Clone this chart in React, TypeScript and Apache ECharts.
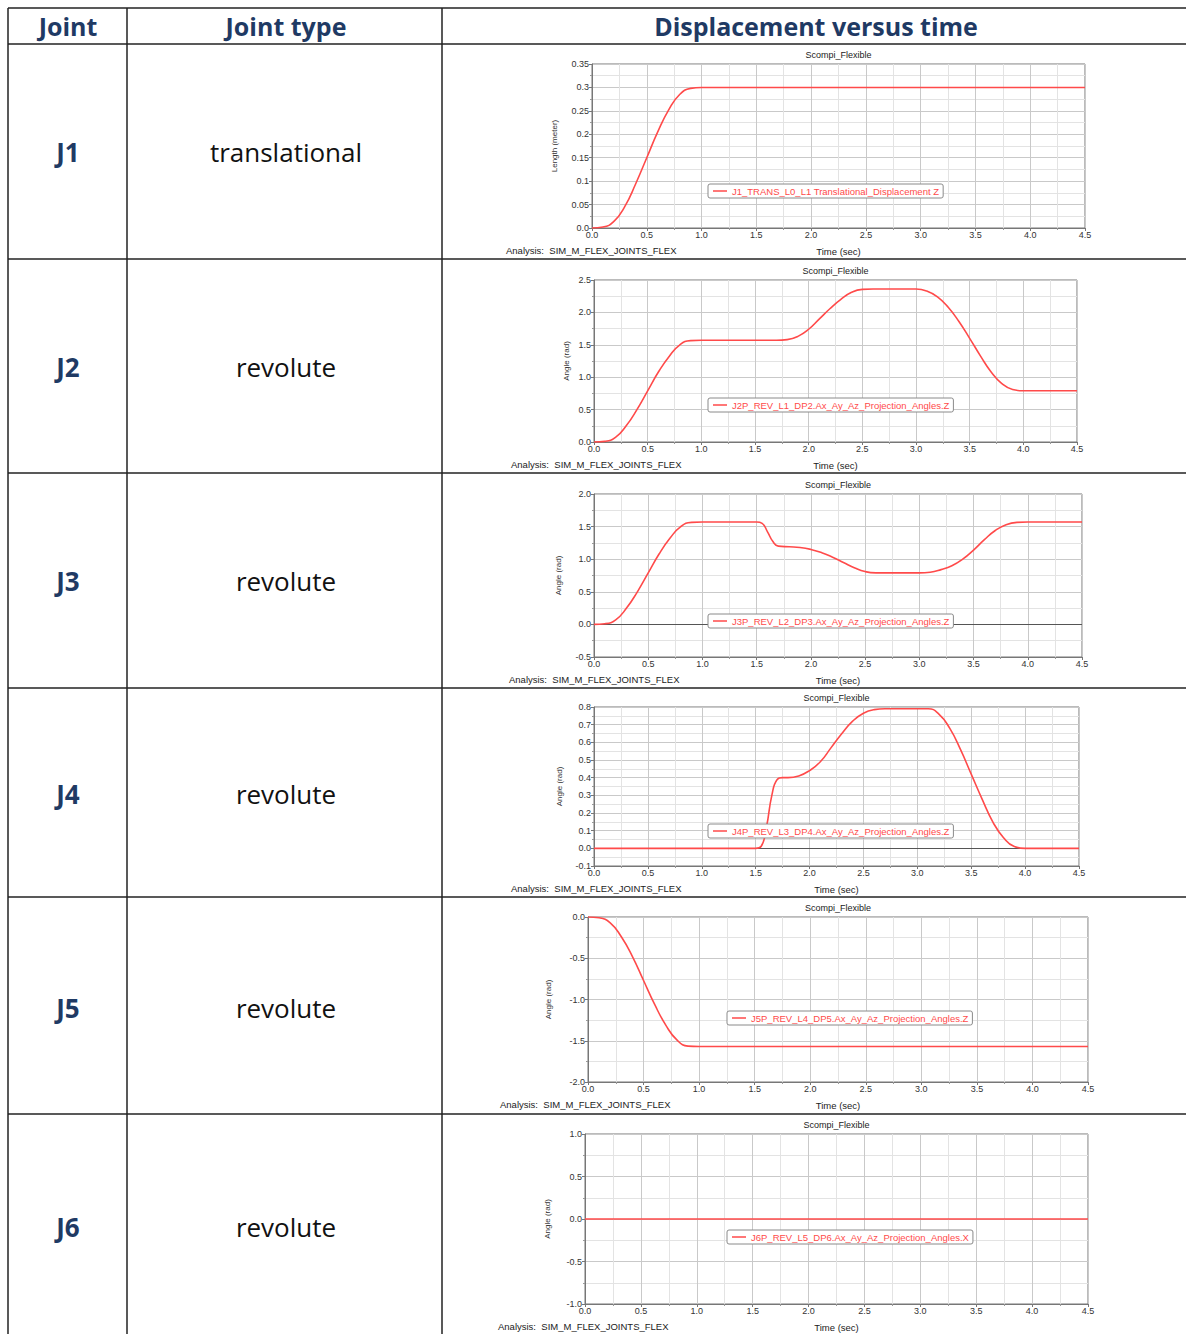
import React, { useEffect, useRef } from "react";
import * as echarts from "echarts";

// ---------- data ----------
const jointLabels = ["J1", "J2", "J3", "J4", "J5", "J6"];
const jointTypes = ["translational", "revolute", "revolute", "revolute", "revolute", "revolute"];
const headerLabels = ["Joint", "Joint type", "Displacement versus time"];

const seriesNames = [
  "J1_TRANS_L0_L1 Translational_Displacement Z",
  "J2P_REV_L1_DP2.Ax_Ay_Az_Projection_Angles.Z",
  "J3P_REV_L2_DP3.Ax_Ay_Az_Projection_Angles.Z",
  "J4P_REV_L3_DP4.Ax_Ay_Az_Projection_Angles.Z",
  "J5P_REV_L4_DP5.Ax_Ay_Az_Projection_Angles.Z",
  "J6P_REV_L5_DP6.Ax_Ay_Az_Projection_Angles.X",
];
const yAxisNames = ["Length (meter)", "Angle (rad)", "Angle (rad)", "Angle (rad)", "Angle (rad)", "Angle (rad)"];

const j1T = [0, 0.1, 0.2, 0.3, 0.4, 0.5, 0.6, 0.7, 0.8, 0.9, 1.0, 4.5];
const j1V = [0, 0.002, 0.014, 0.046, 0.095, 0.15, 0.205, 0.252, 0.285, 0.298, 0.3, 0.3];

const j2T = [0, 0.1, 0.2, 0.3, 0.4, 0.5, 0.6, 0.7, 0.8, 0.9, 1.0, 1.7, 1.8, 1.9, 2.0, 2.1, 2.2, 2.3, 2.4, 2.5, 2.6, 3.0, 3.1, 3.2, 3.3, 3.4, 3.5, 3.6, 3.7, 3.8, 3.9, 4.0, 4.5];
const j2V = [0, 0.01, 0.07, 0.25, 0.5, 0.79, 1.08, 1.32, 1.5, 1.565, 1.57, 1.57, 1.58, 1.63, 1.74, 1.9, 2.06, 2.2, 2.31, 2.355, 2.36, 2.36, 2.33, 2.24, 2.08, 1.86, 1.6, 1.33, 1.08, 0.9, 0.81, 0.79, 0.79];

const j3T = [0, 0.1, 0.2, 0.3, 0.4, 0.5, 0.6, 0.7, 0.8, 0.9, 1.0, 1.5, 1.55, 1.6, 1.65, 1.7, 1.8, 1.9, 2.0, 2.1, 2.2, 2.3, 2.4, 2.5, 2.6, 3.0, 3.1, 3.2, 3.3, 3.4, 3.5, 3.6, 3.7, 3.8, 3.9, 4.0, 4.5];
const j3V = [0, 0.01, 0.07, 0.25, 0.5, 0.79, 1.08, 1.32, 1.5, 1.565, 1.57, 1.57, 1.55, 1.42, 1.27, 1.2, 1.19, 1.18, 1.15, 1.1, 1.03, 0.95, 0.87, 0.81, 0.79, 0.79, 0.8, 0.84, 0.9, 1.0, 1.14, 1.3, 1.44, 1.53, 1.565, 1.57, 1.57];

const j4T = [0, 1.5, 1.55, 1.6, 1.65, 1.7, 1.75, 1.8, 1.9, 2.0, 2.1, 2.2, 2.3, 2.4, 2.5, 2.6, 2.7, 3.1, 3.2, 3.3, 3.4, 3.5, 3.6, 3.7, 3.8, 3.9, 4.0, 4.5];
const j4V = [0, 0, 0.01, 0.12, 0.3, 0.39, 0.4, 0.4, 0.41, 0.44, 0.49, 0.57, 0.65, 0.72, 0.765, 0.785, 0.79, 0.79, 0.76, 0.68, 0.56, 0.42, 0.28, 0.15, 0.06, 0.01, 0, 0];

const j5T = [0, 0.1, 0.2, 0.3, 0.4, 0.5, 0.6, 0.7, 0.8, 0.9, 1.0, 4.5];
const j5V = [0, -0.01, -0.07, -0.24, -0.48, -0.77, -1.06, -1.31, -1.49, -1.565, -1.57, -1.57];

const j6T = [0, 4.5];
const j6V = [0, 0];

const allT = [j1T, j2T, j3T, j4T, j5T, j6T];
const allV = [j1V, j2V, j3V, j4V, j5V, j6V];

const yMins = [0, 0, -0.5, -0.1, -2.0, -1.0];
const yMaxs = [0.35, 2.5, 2.0, 0.8, 0.0, 1.0];
const yIntervals = [0.05, 0.5, 0.5, 0.1, 0.5, 0.5];
const xTickValues = [0, 0.5, 1.0, 1.5, 2.0, 2.5, 3.0, 3.5, 4.0, 4.5];

// ---------- layout ----------
const plots = [
  { l: 592, t: 64, w: 493, h: 164, nameGap: 34, legL: 708, legT: 184, anaX: 506, zero: false },
  { l: 594, t: 280, w: 483, h: 162, nameGap: 24, legL: 708, legT: 398, anaX: 511, zero: false },
  { l: 594, t: 494, w: 488, h: 163, nameGap: 32, legL: 708, legT: 614, anaX: 509, zero: true },
  { l: 594, t: 707, w: 485, h: 159, nameGap: 31, legL: 708, legT: 824, anaX: 511, zero: true },
  { l: 588, t: 917, w: 500, h: 165, nameGap: 36, legL: 727, legT: 1011, anaX: 500, zero: false },
  { l: 585, t: 1134, w: 503, h: 170, nameGap: 34, legL: 727, legT: 1230, anaX: 498, zero: false },
];
const rowLines = [44, 259, 473, 688, 897, 1114];
const colLines = [8, 127, 442];

const NAVY = "#1f3a64";
const RED = "#ff4a4a";
const CF = "Liberation Sans";

function fmtY(i: number, v: number) {
  if (i === 0) return v === 0 ? "0.0" : String(+v.toFixed(2));
  return v.toFixed(1);
}

export default function App() {
  const ref = useRef<HTMLDivElement>(null);
  useEffect(() => {
    if (!ref.current) return;
    const chart = echarts.init(ref.current, null, { renderer: "svg" });

    const graphic: any[] = [];
    graphic.push({ type: "line", shape: { x1: 8, y1: 8, x2: 1186, y2: 8 }, style: { stroke: "#222", lineWidth: 1.5 } });
    rowLines.forEach((y) =>
      graphic.push({ type: "line", shape: { x1: 8, y1: y, x2: 1186, y2: y }, style: { stroke: "#222", lineWidth: 1.5 } })
    );
    colLines.forEach((x) =>
      graphic.push({ type: "line", shape: { x1: x, y1: 8, x2: x, y2: 1334 }, style: { stroke: "#222", lineWidth: 1.5 } })
    );
    const headerX = [68, 286, 816];
    headerLabels.forEach((h, i) =>
      graphic.push({
        type: "text", x: headerX[i], y: 26,
        style: { text: h, fontSize: 25, fontWeight: "bold", fontFamily: "Open Sans", fill: NAVY, align: "center", verticalAlign: "middle" },
      })
    );
    const rowCenters = [152, 367, 581, 794, 1008, 1227];
    jointLabels.forEach((j, i) => {
      graphic.push({
        type: "text", x: 68, y: rowCenters[i],
        style: { text: j, fontSize: 26, fontWeight: "bold", fontFamily: "Open Sans", fill: NAVY, align: "center", verticalAlign: "middle" },
      });
      graphic.push({
        type: "text", x: 286, y: rowCenters[i],
        style: { text: jointTypes[i], fontSize: 26, fontFamily: "Open Sans", fill: "#111", align: "center", verticalAlign: "middle" },
      });
    });
    plots.forEach((p) => {
      graphic.push({
        type: "text", x: p.anaX, y: p.t + p.h + 22,
        style: { text: "Analysis:  SIM_M_FLEX_JOINTS_FLEX", fontSize: 9.5, fontFamily: CF, fill: "#222", verticalAlign: "middle" },
      });
    });

    const grid = plots.map((p) => ({
      left: p.l, top: p.t, width: p.w, height: p.h,
      show: true, borderColor: "#777", borderWidth: 1, backgroundColor: "#fff",
    }));
    const title = plots.map((p) => ({
      text: "Scompi_Flexible",
      left: p.l + p.w / 2, top: p.t - 14, textAlign: "center",
      textStyle: { fontSize: 9, fontWeight: "normal", fontFamily: CF, color: "#222" },
      padding: 0,
    }));
    const xAxis = plots.map((p, i) => ({
      type: "value", gridIndex: i, min: 0, max: 4.5, interval: 0.5,
      name: "Time (sec)", nameLocation: "middle", nameGap: 18,
      nameTextStyle: { fontSize: 9.5, fontFamily: CF, color: "#222" },
      axisLine: { show: true, onZero: false, lineStyle: { color: "#777" } },
      axisTick: { show: true, length: 3, lineStyle: { color: "#777" } },
      minorTick: { show: true, splitNumber: 2, length: 2, lineStyle: { color: "#999" } },
      splitLine: { show: true, lineStyle: { color: "#c9c9c9", width: 1 } },
      minorSplitLine: { show: true, lineStyle: { color: "#e3e3e3", width: 1 } },
      axisLabel: {
        fontSize: 9, fontFamily: CF, color: "#333", margin: 2,
        formatter: (v: number) => (xTickValues.includes(+v.toFixed(1)) ? v.toFixed(1) : ""),
      },
    }));
    const yAxis = plots.map((p, i) => ({
      type: "value", gridIndex: i, min: yMins[i], max: yMaxs[i], interval: yIntervals[i],
      name: yAxisNames[i], nameLocation: "middle", nameGap: p.nameGap,
      nameTextStyle: { fontSize: 8, fontFamily: CF, color: "#333" },
      axisLine: { show: true, onZero: false, lineStyle: { color: "#777" } },
      axisTick: { show: true, length: 3, lineStyle: { color: "#777" } },
      minorTick: { show: true, splitNumber: 2, length: 2, lineStyle: { color: "#999" } },
      splitLine: { show: true, lineStyle: { color: "#c9c9c9", width: 1 } },
      minorSplitLine: { show: true, lineStyle: { color: "#e3e3e3", width: 1 } },
      axisLabel: { fontSize: 9, fontFamily: CF, color: "#333", margin: 3, formatter: (v: number) => fmtY(i, v) },
    }));
    const legend = plots.map((p, i) => ({
      left: p.legL, top: p.legT, orient: "horizontal",
      data: [seriesNames[i]],
      icon: "rect", itemWidth: 14, itemHeight: 1.5, itemGap: 4,
      borderColor: "#8a8a8a", borderWidth: 1, borderRadius: 2, padding: [2, 4, 2, 5],
      backgroundColor: "#fff",
      textStyle: { fontSize: 9.5, fontFamily: CF, color: RED },
    }));
    const series = plots.map((p, i) => ({
      type: "line", name: seriesNames[i], xAxisIndex: i, yAxisIndex: i,
      data: allT[i].map((t, k) => [t, allV[i][k]]),
      showSymbol: false, symbol: "none", smooth: 0.5,
      lineStyle: { color: RED, width: 1.6 }, itemStyle: { color: RED },
      z: 3,
      markLine: p.zero
        ? {
            silent: true, symbol: "none", label: { show: false },
            lineStyle: { color: "#555", width: 1, type: "solid" },
            data: [{ yAxis: 0 }], z: 2,
          }
        : undefined,
    }));

    chart.setOption({
      animation: false,
      backgroundColor: "#fff",
      title, grid, xAxis, yAxis, legend, series, graphic,
    });
    return () => chart.dispose();
  }, []);
  return <div ref={ref} style={{ position: "absolute", left: 0, top: 0, width: 1186, height: 1334 }} />;
}
